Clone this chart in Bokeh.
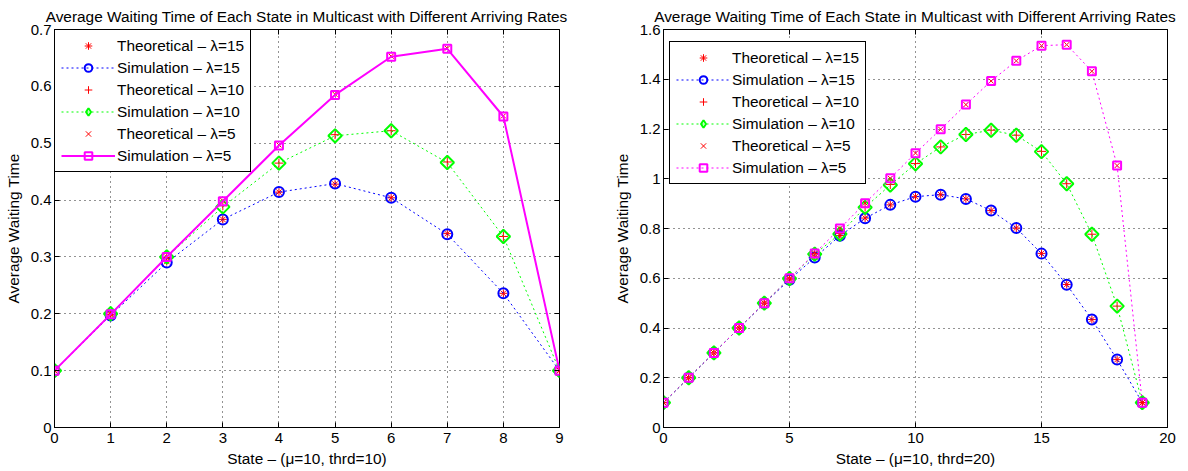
from bokeh.plotting import figure
from bokeh.layouts import row
from bokeh.models import (Range1d, FixedTicker, Legend, LegendItem, LinearAxis,
                          ColumnDataSource)
from bokeh.embed import file_html
from bokeh.resources import INLINE

TITLE = "Average Waiting Time of Each State in Multicast with Different Arriving Rates"
Y_LABEL = "Average Waiting Time"
LEGEND_LABELS = ["Theoretical \u2013 \u03bb=15", "Simulation \u2013 \u03bb=15",
                 "Theoretical \u2013 \u03bb=10", "Simulation \u2013 \u03bb=10",
                 "Theoretical \u2013 \u03bb=5", "Simulation \u2013 \u03bb=5"]

# ---------------- left panel (thrd=10) ----------------
left_xlabel = "State \u2013 (\u03bc=10, thrd=10)"
left_states = [0, 1, 2, 3, 4, 5, 6, 7, 8, 9]
left_theo15 = [0.100, 0.198, 0.292, 0.366, 0.414, 0.428, 0.404, 0.341, 0.236, 0.100]
left_sim15 = [0.100, 0.197, 0.290, 0.366, 0.414, 0.429, 0.404, 0.340, 0.236, 0.100]
left_theo10 = [0.100, 0.199, 0.299, 0.390, 0.465, 0.515, 0.522, 0.467, 0.336, 0.100]
left_sim10 = [0.100, 0.200, 0.300, 0.388, 0.465, 0.513, 0.522, 0.466, 0.336, 0.100]
left_theo5 = [0.100, 0.200, 0.300, 0.399, 0.497, 0.586, 0.653, 0.667, 0.548, 0.100]
left_sim5 = [0.100, 0.199, 0.300, 0.398, 0.496, 0.585, 0.652, 0.666, 0.547, 0.100]
left_xticks = [0, 1, 2, 3, 4, 5, 6, 7, 8, 9]
left_xtick_labels = ["0", "1", "2", "3", "4", "5", "6", "7", "8", "9"]
left_yticks = [0, 0.1, 0.2, 0.3, 0.4, 0.5, 0.6, 0.7]
left_ytick_labels = ["0", "0.1", "0.2", "0.3", "0.4", "0.5", "0.6", "0.7"]

# ---------------- right panel (thrd=20) ----------------
right_xlabel = "State \u2013 (\u03bc=10, thrd=20)"
right_states = list(range(20))
right_theo15 = [0.100, 0.200, 0.300, 0.400, 0.500, 0.596, 0.686, 0.772, 0.842, 0.895, 0.928, 0.936, 0.919, 0.872, 0.802, 0.700, 0.575, 0.434, 0.273, 0.100]
right_sim15 = [0.100, 0.200, 0.300, 0.400, 0.499, 0.594, 0.683, 0.771, 0.841, 0.895, 0.928, 0.936, 0.919, 0.872, 0.802, 0.699, 0.574, 0.434, 0.273, 0.100]
right_theo10 = [0.100, 0.200, 0.300, 0.400, 0.500, 0.600, 0.699, 0.780, 0.886, 0.977, 1.061, 1.128, 1.178, 1.195, 1.175, 1.110, 0.980, 0.777, 0.488, 0.100]
right_sim10 = [0.100, 0.200, 0.300, 0.400, 0.500, 0.599, 0.697, 0.778, 0.885, 0.975, 1.060, 1.128, 1.178, 1.195, 1.175, 1.109, 0.980, 0.777, 0.488, 0.100]
right_theo5 = [0.100, 0.200, 0.300, 0.400, 0.500, 0.600, 0.700, 0.800, 0.902, 1.002, 1.103, 1.199, 1.298, 1.393, 1.474, 1.535, 1.539, 1.432, 1.053, 0.100]
right_sim5 = [0.100, 0.200, 0.300, 0.400, 0.500, 0.600, 0.700, 0.800, 0.902, 1.002, 1.103, 1.199, 1.298, 1.393, 1.474, 1.535, 1.539, 1.432, 1.053, 0.100]
right_xticks = [0, 5, 10, 15, 20]
right_xtick_labels = ["0", "5", "10", "15", "20"]
right_yticks = [0, 0.2, 0.4, 0.6, 0.8, 1.0, 1.2, 1.4, 1.6]
right_ytick_labels = ["0", "0.2", "0.4", "0.6", "0.8", "1", "1.2", "1.4", "1.6"]

FONT = "Liberation Sans"
TXT = "15.4px"
TICK_TXT = "15px"
DOT = "2 3"
FRAME_H = 398


def make_panel(states, series, xr, yr, xticks, xlabels, yticks, ylabels, xlabel,
               frame_w, b_left, b_right, sim5_dash, sim5_width, legend_loc):
    p = figure(output_backend="svg", toolbar_location=None,
               frame_width=frame_w, frame_height=FRAME_H,
               min_border_left=b_left, min_border_right=b_right,
               min_border_top=29, min_border_bottom=43,
               x_range=Range1d(*xr), y_range=Range1d(*yr),
               title=TITLE, background_fill_color="white",
               border_fill_color="white")
    p.title.text_font = FONT
    p.title.text_font_size = TXT
    p.title.text_font_style = "normal"
    p.title.text_color = "black"
    p.title.align = "center"
    p.title.standoff = 10
    p.outline_line_color = "black"
    p.outline_line_width = 1
    p.outline_line_alpha = 1

    for ax, ticks, labels in ((p.xaxis[0], xticks, xlabels), (p.yaxis[0], yticks, ylabels)):
        ax.ticker = FixedTicker(ticks=ticks)
        ax.major_label_overrides = dict(zip(ticks, labels))
        ax.major_label_text_font = FONT
        ax.major_label_text_font_size = TICK_TXT
        ax.major_label_text_color = "black"
        ax.axis_label_text_font = FONT
        ax.axis_label_text_font_size = TXT
        ax.axis_label_text_font_style = "normal"
        ax.axis_label_text_color = "black"
        ax.major_tick_in = 5
        ax.major_tick_out = 0
        ax.minor_tick_line_color = None
        ax.axis_line_color = "black"
        ax.major_tick_line_color = "black"
    p.xaxis[0].axis_label = xlabel
    p.xaxis[0].major_label_standoff = 5
    p.xaxis[0].axis_label_standoff = 4
    p.yaxis[0].axis_label = Y_LABEL
    p.yaxis[0].major_label_standoff = 3
    p.yaxis[0].axis_label_standoff = 6

    # ticks on the top and right edges (box on)
    for side, ticks in (("above", xticks), ("right", yticks)):
        ax = LinearAxis(ticker=FixedTicker(ticks=ticks),
                        major_label_overrides={t: "" for t in ticks},
                        major_tick_in=5, major_tick_out=0, major_label_standoff=0,
                        axis_line_color=None, minor_tick_line_color=None,
                        major_tick_line_color="black")
        p.add_layout(ax, side)

    for g in (p.xgrid[0], p.ygrid[0]):
        g.grid_line_color = "black"
        g.grid_line_dash = "1 4"
        g.grid_line_width = 1
        g.grid_line_alpha = 0.85
    p.xgrid[0].ticker = FixedTicker(ticks=xticks)
    p.ygrid[0].ticker = FixedTicker(ticks=yticks)

    theo15, sim15, theo10, sim10, theo5, sim5 = series
    src10 = ColumnDataSource(data=dict(x=states, y=sim10))

    r_t15 = p.scatter(states, theo15, marker="asterisk", size=8, line_color="red", line_width=1)
    l_s15 = p.line(states, sim15, line_color="blue", line_width=1, line_dash=DOT)
    m_s15 = p.scatter(states, sim15, marker="circle", size=10, line_color="blue",
                      fill_color=None, line_width=2)
    r_t10 = p.scatter(states, theo10, marker="cross", size=9, line_color="red", line_width=1)
    l_s10 = p.line("x", "y", source=src10, line_color="#00ff00", line_width=1, line_dash=DOT)
    # diamonds drawn as 45-degree squares (MATLAB's diamond is nearly square)
    p.scatter("x", "y", source=src10, marker="square", angle=0.7854, size=9.5,
              line_color="#00ff00", fill_color=None, line_width=2)
    # hidden renderer that only supplies the diamond glyph of the legend
    m_s10 = p.scatter("x", "y", source=src10, marker="diamond", size=16,
                      line_color="#00ff00", fill_color=None, line_width=2, visible=False)
    r_t5 = p.scatter(states, theo5, marker="x", size=7, line_color="red", line_width=1)
    l_s5 = p.line(states, sim5, line_color="magenta", line_width=sim5_width, line_dash=sim5_dash)
    m_s5 = p.scatter(states, sim5, marker="square", size=8, line_color="magenta",
                     fill_color=None, line_width=2)

    renderers = [[r_t15], [l_s15, m_s15], [r_t10], [l_s10, m_s10], [r_t5], [l_s5, m_s5]]
    items = [LegendItem(label=lab, renderers=rs) for lab, rs in zip(LEGEND_LABELS, renderers)]
    legend = Legend(items=items, location=legend_loc, margin=0, padding=6, spacing=3,
                    glyph_width=54, glyph_height=19, label_height=19, label_standoff=2,
                    label_text_font=FONT, label_text_font_size=TXT,
                    label_text_color="black",
                    inactive_fill_alpha=0,
                    border_line_color="black", border_line_width=1, border_line_alpha=1,
                    background_fill_color="white", background_fill_alpha=1)
    p.add_layout(legend)
    return p


p1 = make_panel(left_states,
                [left_theo15, left_sim15, left_theo10, left_sim10, left_theo5, left_sim5],
                (0, 9), (0, 0.7), left_xticks, left_xtick_labels, left_yticks, left_ytick_labels,
                left_xlabel, 505, 54, 45, "solid", 2, "top_left")
p2 = make_panel(right_states,
                [right_theo15, right_sim15, right_theo10, right_sim10, right_theo5, right_sim5],
                (0, 20), (0, 1.6), right_xticks, right_xtick_labels, right_yticks, right_ytick_labels,
                right_xlabel, 504, 59, 20, DOT, 1, (6, 243))

layout = row(p1, p2, spacing=0)
open("out.html", "w").write(file_html(layout, INLINE))
